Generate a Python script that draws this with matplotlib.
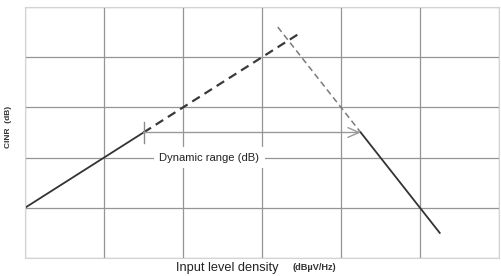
import matplotlib.pyplot as plt
import numpy as np

plt.rcParams['font.family'] = ['Liberation Sans', 'DejaVu Sans']

# Courbe CINR en fonction de la densite de niveau d'entree (unites de grille)
x_montee = [0.0, 1.5]
y_montee = [1.0, 2.5]
x_montee_pointille = [1.5, 3.5]
y_montee_pointille = [2.5, 4.5]
x_descente_pointille = [3.2, 4.25]
y_descente_pointille = [4.6, 2.5]
x_descente = [4.25, 5.25]
y_descente = [2.5, 0.5]

# Plage dynamique
x_debut_plage = 1.5
x_fin_plage = 4.25
y_plage = 2.5

fig = plt.figure(figsize=(5.01, 2.76), dpi=100)
ax = fig.add_axes([25/501, 18/276, 474/501, 251/276])

ax.set_xlim(0, 6)
ax.set_ylim(0, 5)
ax.set_xticks(np.arange(0, 7, 1))
ax.set_yticks(np.arange(0, 6, 1))
ax.grid(True, color='#959595', linewidth=0.9)
ax.tick_params(length=0, labelbottom=False, labelleft=False)
for s in ax.spines.values():
    s.set_color('#d4d4d4')

ax.plot(x_montee, y_montee, '-', color='#333333', linewidth=1.3)
ax.plot(x_montee_pointille, y_montee_pointille, '--', color='#3a3a3a', linewidth=1.6, dashes=(4, 2.5))
ax.plot(x_descente_pointille, y_descente_pointille, '--', color='#7a7a7a', linewidth=1.1, dashes=(4, 2.5))
ax.plot(x_descente, y_descente, '-', color='#333333', linewidth=1.3)

# Fleche de la plage dynamique
ax.annotate('', xy=(x_fin_plage, y_plage), xytext=(x_debut_plage, y_plage),
            arrowprops=dict(arrowstyle='->,head_length=0.8,head_width=0.35', color='#999999', lw=1.0,
                            shrinkA=0, shrinkB=0))
ax.plot([x_debut_plage, x_debut_plage], [y_plage - 0.2, y_plage + 0.2], color='#8a8a8a', linewidth=1.0)

ax.text(2.33, 2.0, 'Dynamic range (dB)', ha='center', va='center', fontsize=8.1, color='#222222',
        bbox=dict(facecolor='white', edgecolor='none', pad=4))

fig.text(9/501, 1 - 127/276, 'CINR  (dB)', rotation=90, ha='center', va='center',
         fontsize=6, fontweight='bold', color='#333333')
fig.text(227/501, 1 - 268/276, 'Input level density', ha='center', va='center',
         fontsize=9.2, color='#222222')
fig.text(314/501, 1 - 268/276, '(dBµV/Hz)', ha='center', va='center',
         fontsize=6.6, fontweight='bold', color='#333333')

fig.savefig('out.png', dpi=100)
